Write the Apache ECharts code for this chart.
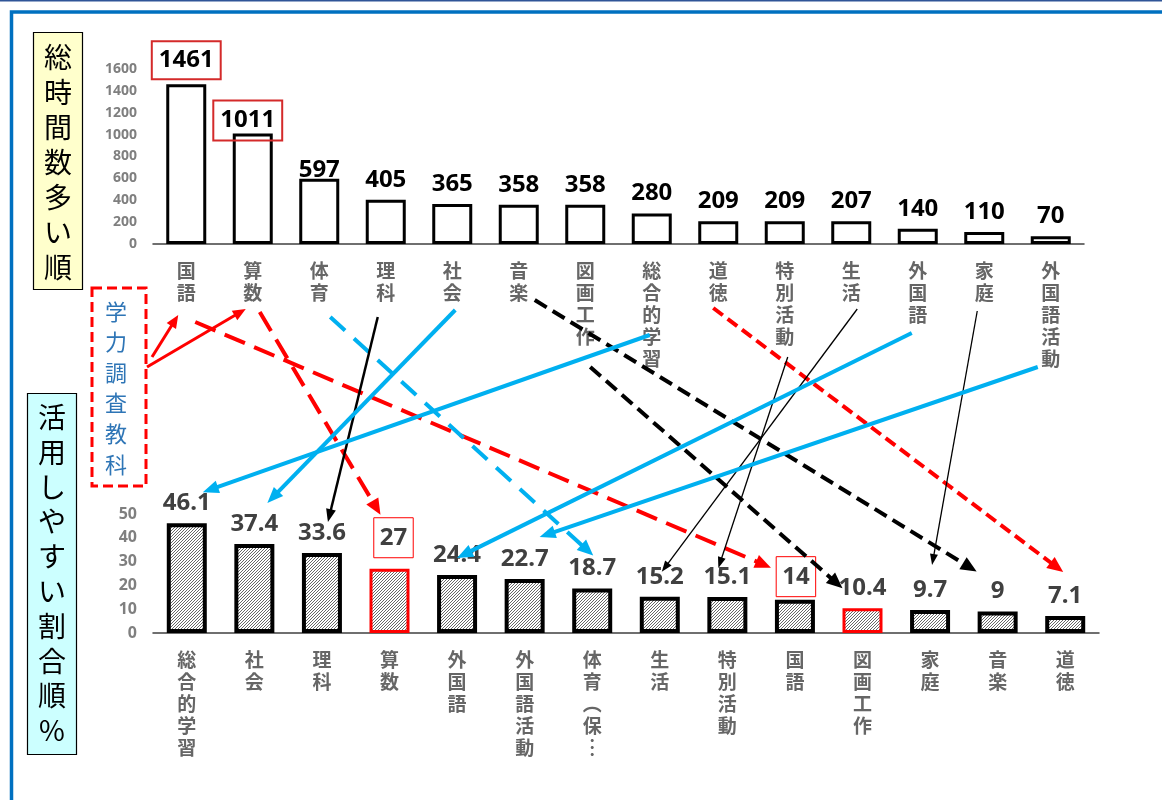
<!DOCTYPE html>
<html><head><meta charset="utf-8">
<script src="https://cdn.jsdelivr.net/npm/echarts@6/dist/echarts.min.js"></script>
<style>html,body{margin:0;padding:0;background:#fff}#c{width:1162px;height:800px}</style>
</head><body><div id="c"></div>
<script>
// ---------------- DATA ----------------
const topCategories = ['国語','算数','体育','理科','社会','音楽','図画工作','総合的学習','道徳','特別活動','生活','外国語','家庭','外国語活動'];
const totalHours = [1461,1011,597,405,365,358,358,280,209,209,207,140,110,70];
const bottomCategories = ['総合的学習','社会','理科','算数','外国語','外国語活動','体育（保…','生活','特別活動','国語','図画工作','家庭','音楽','道徳'];
const usefulPct = [46.1,37.4,33.6,27,24.4,22.7,18.7,15.2,15.1,14,10.4,9.7,9,7.1];
const titleTop = '総時間数多い順';
const titleBottom = '活用しやすい割合順%';
const testSubjectsLabel = '学力調査教科';
const testSubjects = ['国語','算数'];
// links: top category -> bottom category
const links = [
  ['国語','国語'],['算数','算数'],['体育','体育（保…'],['理科','理科'],['社会','社会'],
  ['音楽','音楽'],['図画工作','図画工作'],['総合的学習','総合的学習'],['道徳','道徳'],
  ['特別活動','特別活動'],['生活','生活'],['外国語','外国語'],['家庭','家庭'],['外国語活動','外国語活動']
];

// ---------------- STYLE ----------------
const FONT = '"Noto Sans CJK JP","Noto Sans",sans-serif';
const NUMFONT = '"Noto Sans","Noto Sans CJK JP",sans-serif';
const kinds = {
  redDash:  {stroke:'#ff0000', w:4,   dash:[22,10], hl:16, hw:14},
  redDashS: {stroke:'#ff0000', w:4,   dash:[12,6],  hl:16, hw:14},
  blueDash: {stroke:'#00b0f0', w:4,   dash:[20,12], hl:16, hw:14},
  blue:     {stroke:'#00b0f0', w:4,   dash:null,    hl:16, hw:13},
  blackDash:{stroke:'#000000', w:4,   dash:[14,7],  hl:16, hw:14},
  black:    {stroke:'#000000', w:2.5, dash:null,    hl:13, hw:10},
  thin:     {stroke:'#000000', w:1.3, dash:null,    hl:11, hw:8}
};
// start offset relative to (top category x, top axis y); end offset relative to (bottom category x, bar top y)
const linkStyle = {
  '国語':      {k:'redDash',  s:[9,78],   e:[-24,-32]},
  '算数':      {k:'redDash',  s:[7,68],   e:[-9,-54]},
  '体育':      {k:'blueDash', s:[11,73],  e:[1,-33]},
  '理科':      {k:'black',    s:[-8,73],  e:[6,-31]},
  '社会':      {k:'blue',     s:[3,66],   e:[13,-41]},
  '音楽':      {k:'blackDash',s:[16,56],  e:[-21,-40]},
  '図画工作':  {k:'blackDash',s:[5,123],  e:[-20,-20]},
  '総合的学習':{k:'blue',     s:[-2,91],  e:[16,-31]},
  '道徳':      {k:'redDashS', s:[-5,64],  e:[-2,-44]},
  '特別活動':  {k:'thin',     s:[3,113],  e:[-9,-29]},
  '生活':      {k:'thin',     s:[6,65],   e:[2,-25]},
  '外国語':    {k:'blue',     s:[-6,89],  e:[0,-17]},
  '家庭':      {k:'thin',     s:[-7,67],  e:[2,-45]},
  '外国語活動':{k:'blue',     s:[-13,123],e:[15,-42]}
};
const redBorderBottom = ['算数','図画工作'];

function vertical(s){
  return s.replace(/（/g,'︵').replace(/…/g,'︙').split('').join('\n');
}

// hatch pattern (fine diagonal ////)
const T = 3;
const pc = document.createElement('canvas'); pc.width = T; pc.height = T;
const g = pc.getContext('2d');
g.fillStyle = '#fff'; g.fillRect(0,0,T,T);
g.strokeStyle = '#000'; g.lineWidth = 0.6;
g.beginPath();
g.moveTo(0,T); g.lineTo(T,0);
g.moveTo(-1,1); g.lineTo(1,-1);
g.moveTo(T-1,T+1); g.lineTo(T+1,T-1);
g.stroke();

const topLabelOverrides = {
  '国語': {borderColor:'#d42a2a', borderWidth:2, padding:[7,7], distance:5},
  '算数': {borderColor:'#d42a2a', borderWidth:2, padding:[8,7], distance:-7, offset:[-5,0]},
  '体育': {offset:[0,11]}
};
const bottomLabelOverrides = {
  '算数': {borderColor:'#ff0000', borderWidth:1, padding:[8,6], distance:11, offset:[4,0]},
  '国語': {borderColor:'#ff0000', borderWidth:1, padding:[8,6], distance:3, offset:[1,0]}
};

const chart = echarts.init(document.getElementById('c'), null, {renderer:'canvas'});

const catLabel = {
  interval:0, margin:16, color:'#666666', fontSize:19, lineHeight:22, fontWeight:'bold',
  fontFamily:FONT, verticalAlign:'top', formatter:vertical
};

chart.setOption({
  animation:false,
  backgroundColor:'#fff',
  grid:[
    {left:153, top:69, width:931, height:175},
    {left:153, top:514, width:946, height:119}
  ],
  xAxis:[
    {type:'category', gridIndex:0, data:topCategories, axisTick:{show:false},
     axisLine:{lineStyle:{color:'#404040', width:1.5}}, axisLabel:catLabel},
    {type:'category', gridIndex:1, data:bottomCategories, axisTick:{show:false},
     axisLine:{lineStyle:{color:'#404040', width:1.5}}, axisLabel:catLabel}
  ],
  yAxis:[
    {type:'value', gridIndex:0, min:0, max:1600, interval:200, splitLine:{show:false},
     axisLine:{show:false}, axisTick:{show:false},
     axisLabel:{color:'#7f7f7f', fontSize:14, fontWeight:'bold', fontFamily:NUMFONT, margin:16, formatter:v=>String(v)}},
    {type:'value', gridIndex:1, min:0, max:50, interval:10, splitLine:{show:false},
     axisLine:{show:false}, axisTick:{show:false},
     axisLabel:{color:'#7f7f7f', fontSize:16, fontWeight:'bold', fontFamily:NUMFONT, margin:16, formatter:v=>String(v)}}
  ],
  series:[
    {type:'bar', xAxisIndex:0, yAxisIndex:0, barWidth:40,
     itemStyle:{color:'#fff', borderColor:'#000', borderWidth:3},
     label:{show:true, position:'top', distance:8, color:'#000', fontSize:24, fontWeight:'bold', fontFamily:NUMFONT},
     data: totalHours.map((v,i)=>({value:v, label: topLabelOverrides[topCategories[i]] || {}}))},
    {type:'bar', xAxisIndex:1, yAxisIndex:1, barWidth:40,
     itemStyle:{color:{image:pc, repeat:'repeat'}, borderColor:'#000', borderWidth:4},
     label:{show:true, position:'top', distance:8, color:'#404040', fontSize:24, fontWeight:'bold', fontFamily:NUMFONT},
     data: usefulPct.map((v,i)=>{
       const c = bottomCategories[i];
       const o = {value:v, label: bottomLabelOverrides[c] || {}};
       if (redBorderBottom.indexOf(c) >= 0) o.itemStyle = {borderColor:'#ff0000', borderWidth:3};
       return o;
     })}
  ]
});

// ---------------- GRAPHICS ----------------
const els = [];
// frame
els.push({type:'line', shape:{x1:0,y1:0.8,x2:1162,y2:0.8}, style:{stroke:'#2f5597', lineWidth:1.6}, silent:true});
els.push({type:'rect', shape:{x:11.5,y:12,width:1200,height:900}, style:{fill:null, stroke:'#0070c0', lineWidth:3.5}, silent:true});
// title boxes
els.push({type:'rect', shape:{x:33.5,y:32.5,width:49,height:257}, style:{fill:'#ffffcc', stroke:'#000', lineWidth:1.2}});
els.push({type:'text', style:{text:titleTop.split('').join('\n'), x:58, y:40, align:'center', verticalAlign:'top',
  fontSize:28, lineHeight:35, fontFamily:FONT, fill:'#000'}});
els.push({type:'rect', shape:{x:27.5,y:393.5,width:49,height:361}, style:{fill:'#ccffff', stroke:'#000', lineWidth:1.2}});
els.push({type:'text', style:{text:titleBottom.split('').join('\n'), x:52, y:400, align:'center', verticalAlign:'top',
  fontSize:28, lineHeight:34.8, fontFamily:FONT, fill:'#000'}});
els.push({type:'rect', shape:{x:92,y:288,width:54,height:198}, style:{fill:'#fff', stroke:'#ff0000', lineWidth:3, lineDash:[10,5]}});
els.push({type:'text', style:{text:testSubjectsLabel.split('').join('\n'), x:116, y:296, align:'center', verticalAlign:'top',
  fontSize:22, lineHeight:30.6, fontFamily:FONT, fill:'#2e75b6'}});

function arrow(x1,y1,x2,y2,st){
  const dx=x2-x1, dy=y2-y1, L=Math.hypot(dx,dy), ux=dx/L, uy=dy/L;
  const bx=x2-ux*st.hl, by=y2-uy*st.hl;
  const lx=x2-ux*(st.hl-3), ly=y2-uy*(st.hl-3);
  els.push({type:'line', z:50, shape:{x1,y1,x2:lx,y2:ly},
    style:{stroke:st.stroke, lineWidth:st.w, lineDash:st.dash||null, lineCap:'butt'}});
  els.push({type:'polygon', z:51, shape:{points:[[x2,y2],[bx-uy*st.hw/2,by+ux*st.hw/2],[bx+uy*st.hw/2,by-ux*st.hw/2]]},
    style:{fill:st.stroke}});
}

const topAxisY = chart.convertToPixel({gridIndex:0},[0,0])[1];
links.forEach(([tc,bc])=>{
  const ti = topCategories.indexOf(tc), bi = bottomCategories.indexOf(bc);
  const ls = linkStyle[tc];
  const tx = chart.convertToPixel({gridIndex:0},[ti,0])[0];
  const bp = chart.convertToPixel({gridIndex:1},[bi,usefulPct[bi]]);
  arrow(tx+ls.s[0], topAxisY+ls.s[1], bp[0]+ls.e[0], bp[1]+ls.e[1], kinds[ls.k]);
});
// test-subject arrows from the dashed box
const redSolid = {stroke:'#ff0000', w:3, dash:null, hl:13, hw:11};
const tsStarts = [[152,357],[147,367]];
const tsEnds = [[-8,71],[-7,65]];
testSubjects.forEach((c,i)=>{
  const tx = chart.convertToPixel({gridIndex:0},[topCategories.indexOf(c),0])[0];
  arrow(tsStarts[i][0], tsStarts[i][1], tx+tsEnds[i][0], topAxisY+tsEnds[i][1], redSolid);
});

chart.setOption({graphic:{elements:els}});
</script></body></html>
